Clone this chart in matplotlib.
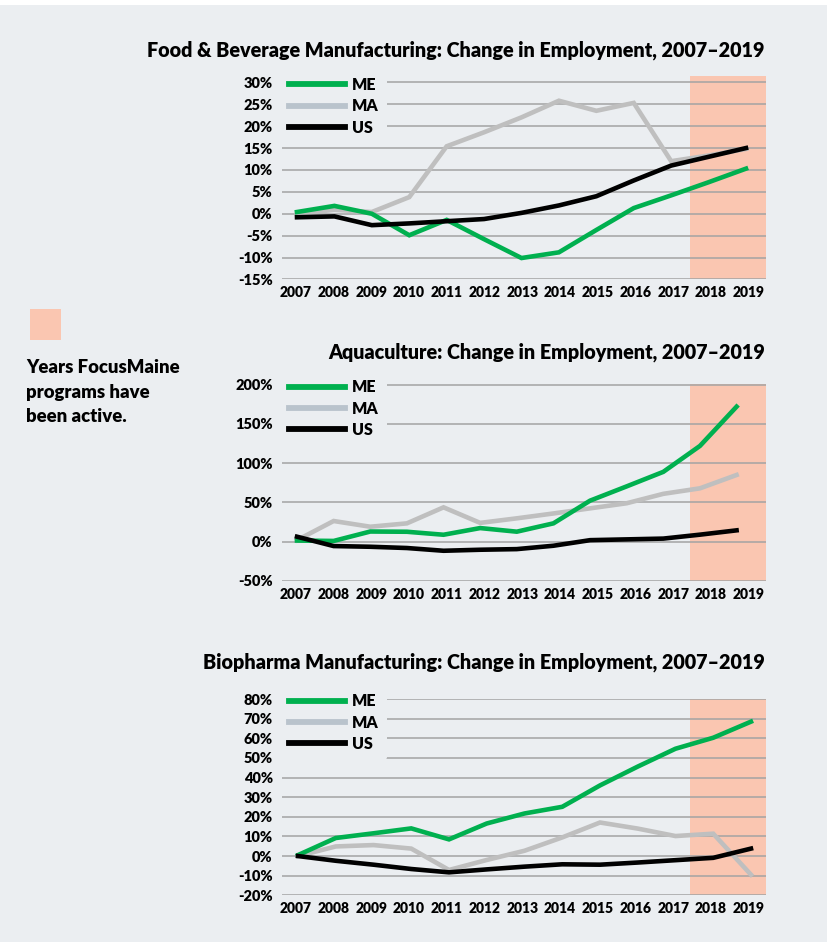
import matplotlib.pyplot as plt
from matplotlib.lines import Line2D
from matplotlib.patches import Rectangle

plt.rcParams['font.family'] = ['Lato', 'DejaVu Sans']

years = list(range(2007, 2020))
series_names = ["ME", "MA", "US"]

# Food & Beverage Manufacturing, % change since 2007
food_me = [0.4, 1.8, 0.0, -4.9, -1.4, -5.8, -10.1, -8.8, -3.7, 1.3, 4.2, 7.2, 10.3]
food_ma = [0.0, 0.9, 0.4, 3.8, 15.4, 18.6, 22.0, 25.8, 23.5, 25.3, 12.0, 13.3, 14.8]
food_us = [-0.8, -0.6, -2.6, -2.2, -1.7, -1.2, 0.2, 1.9, 4.0, 7.6, 11.0, 13.0, 15.0]
food_ticks = [-15, -10, -5, 0, 5, 10, 15, 20, 25, 30]

# Aquaculture
aqua_me = [1.5, 1.0, 13.0, 12.7, 8.9, 17.4, 12.8, 23.4, 52.3, 70.5, 89.0, 122.0, 172.0]
aqua_ma = [2.0, 26.4, 19.1, 23.4, 43.8, 24.0, 29.8, 36.0, 42.5, 49.0, 61.0, 68.0, 85.0]
aqua_us = [6.4, -5.5, -6.4, -8.0, -11.5, -10.2, -9.4, -5.1, 2.0, 3.0, 4.0, 9.0, 14.5]
aqua_ticks = [-50, 0, 50, 100, 150, 200]

# Biopharma Manufacturing
bio_me = [0.5, 9.2, 11.6, 14.1, 8.5, 16.6, 21.7, 25.1, 36.0, 45.6, 54.7, 60.3, 68.5]
bio_ma = [0.0, 4.9, 5.6, 3.8, -7.1, -2.0, 2.7, 9.5, 17.1, 14.0, 10.2, 11.4, -9.5]
bio_us = [0.0, -2.4, -4.4, -6.6, -8.3, -6.8, -5.4, -4.2, -4.4, -3.3, -2.1, -0.9, 3.8]
bio_ticks = [-20, -10, 0, 10, 20, 30, 40, 50, 60, 70, 80]

active_start = 2017.45

BG = '#EBEEF1'
SHADE = '#FAC6B1'
GRID = '#A3A3A3'
COLORS = {"ME": '#00B04F', "MA": '#BFBFBF', "US": '#000000'}
LEG_COLORS = {"ME": '#00B04F', "MA": '#B9C3CC', "US": '#000000'}
WEIGHT = 'heavy'

W, H = 828, 947
fig = plt.figure(figsize=(W / 100, H / 100), dpi=100, facecolor='white')
fig.patches.append(Rectangle((0, 5 / H), 1, (H - 10) / H, transform=fig.transFigure,
                             facecolor=BG, edgecolor='none', zorder=-10))


def chart(top_px, bottom_px, ylim, ticks, me, ma, us, line_xlim, title, title_y, leg_y):
    left_px, right_px = 281.7, 765.7
    ax = fig.add_axes([left_px / W, 1 - bottom_px / H,
                       (right_px - left_px) / W, (bottom_px - top_px) / H])
    ax.set_facecolor('none')
    ax.set_xlim(2006.63, 2019.45)
    ax.set_ylim(*ylim)
    ax.axvspan(active_start, 2019.45, color=SHADE, lw=0, zorder=0)
    for t in ticks:
        ax.axhline(t, color=GRID, lw=1.1, zorder=1)
    for s in ax.spines.values():
        s.set_visible(False)
    ax.set_xticks(years)
    ax.set_xticklabels([str(y) for y in years], fontsize=10, fontweight=WEIGHT)
    ax.set_yticks(ticks)
    ax.set_yticklabels([f"{t}%" for t in ticks], fontsize=10.5, fontweight=WEIGHT)
    ax.tick_params(length=0)
    ax.tick_params(axis='y', pad=6.5)
    ax.tick_params(axis='x', pad=5)

    # lines sit on their own x scale (charts were pasted at slightly different widths)
    lx = ax.twiny()
    lx.set_xlim(*line_xlim)
    lx.set_ylim(*ylim)
    lx.axis('off')
    lx.plot(years, ma, color=COLORS["MA"], lw=3.3, solid_joinstyle='miter')
    lx.plot(years, me, color=COLORS["ME"], lw=3.3, solid_joinstyle='miter')
    lx.plot(years, us, color=COLORS["US"], lw=3.3, solid_joinstyle='miter')

    handles = [Line2D([], [], color=LEG_COLORS[n], lw=4.2) for n in series_names]
    leg = ax.legend(handles, series_names, loc='upper left', bbox_to_anchor=(-0.002, leg_y),
                    frameon=True, facecolor=BG, edgecolor='none', framealpha=1,
                    borderaxespad=0, borderpad=0.5, handlelength=3.5, handletextpad=0.45,
                    labelspacing=0.34, prop={'size': 11.5, 'weight': WEIGHT})
    leg.set_zorder(5)

    fig.text(765 / W, 1 - title_y / H, title, ha='right', va='center',
             fontsize=14.2, fontweight=WEIGHT)
    return ax


chart(76, 279.5, (-15, 31.44), food_ticks, food_me, food_ma, food_us, (2006.591, 2019.526),
      "Food & Beverage Manufacturing: Change in Employment, 2007\u20132019", 50, 1.035)
chart(384.2, 581, (-50, 200.6), aqua_ticks, aqua_me, aqua_ma, aqua_us, (2006.582, 2019.795),
      "Aquaculture: Change in Employment, 2007\u20132019", 352, 1.066)
chart(698.5, 895.3, (-20, 80.3), bio_ticks, bio_me, bio_ma, bio_us, (2006.568, 2019.39),
      "Biopharma Manufacturing: Change in Employment, 2007\u20132019", 662, 1.068)

# side note
fig.patches.append(Rectangle((30 / W, 1 - 340 / H), 31 / W, 31 / H, transform=fig.transFigure,
                             facecolor=SHADE, edgecolor='none'))
fig.text(26.5 / W, 1 - 359 / H, "Years FocusMaine\nprograms have\nbeen active.",
         ha='left', va='top', fontsize=13.3, fontweight=WEIGHT, linespacing=1.55)

fig.savefig('out.png', dpi=100, facecolor=fig.get_facecolor())
